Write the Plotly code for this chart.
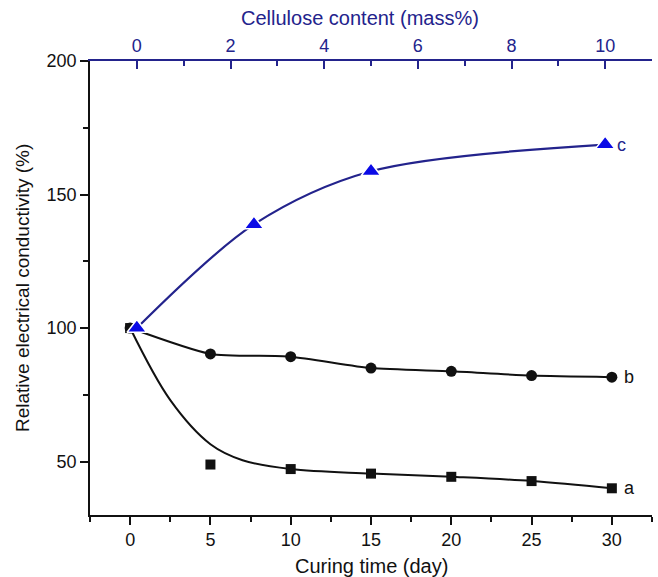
import plotly.graph_objects as go

# Curing time series (bottom axis, days)
days = [0, 5, 10, 15, 20, 25, 30]
cond_a = [100, 48.9, 47.2, 45.5, 44.3, 42.7, 40.0]
cond_b = [100, 90.3, 89.3, 85.0, 83.8, 82.2, 81.6]

# Fitted trend curve for series a
fit_a_days = [0, 2.5, 5, 7, 10, 15, 20, 25, 30]
fit_a_vals = [100, 73.0, 56.5, 50.5, 47.2, 45.5, 44.3, 42.7, 40.0]

# Cellulose content series (top axis, mass%)
cellulose = [0, 2.5, 5, 10]
cond_c = [100, 138.8, 158.7, 168.7]

BLACK = "#111111"
NAVY = "#23238c"
BLUE = "#0a0ae6"
FONT = "Liberation Sans, Arial, sans-serif"

fig = go.Figure()

fig.add_trace(go.Scatter(
    x=fit_a_days, y=fit_a_vals, mode="lines",
    line=dict(color=BLACK, width=2, shape="spline", smoothing=1.0),
    hoverinfo="skip", showlegend=False))
fig.add_trace(go.Scatter(
    x=days, y=cond_a, mode="markers", name="a",
    marker=dict(symbol="square", size=10, color=BLACK),
    showlegend=False))

fig.add_trace(go.Scatter(
    x=days, y=cond_b, mode="lines+markers", name="b",
    line=dict(color=BLACK, width=2, shape="spline", smoothing=0.6),
    marker=dict(symbol="circle", size=11, color=BLACK),
    showlegend=False))

fig.add_trace(go.Scatter(
    x=cellulose, y=cond_c, mode="lines+markers", name="c", xaxis="x2",
    line=dict(color=NAVY, width=2.2, shape="spline", smoothing=0.9),
    marker=dict(symbol="triangle-up", size=17, color=BLUE,
                line=dict(color="white", width=1.5)),
    showlegend=False))

tickfont = dict(family=FONT, size=18, color=BLACK)

fig.update_layout(
    width=658, height=577,
    margin=dict(l=90, r=6, t=61, b=62),
    paper_bgcolor="white", plot_bgcolor="white",
    font=dict(family=FONT, color=BLACK),
    xaxis=dict(
        range=[-2.5, 32.5], tick0=0, dtick=5,
        showline=True, linecolor=BLACK, linewidth=1.5,
        ticks="outside", ticklen=8, tickwidth=1.5, tickcolor=BLACK,
        minor=dict(dtick=2.5, ticks="outside", ticklen=5, tickwidth=1.5, tickcolor=BLACK),
        showgrid=False, zeroline=False, tickfont=tickfont, mirror=False),
    xaxis2=dict(
        overlaying="x", side="top", anchor="y",
        range=[-1, 11], tick0=0, dtick=2,
        showline=True, linecolor=NAVY, linewidth=1.5,
        ticks="inside", ticklen=8, tickwidth=1.5, tickcolor=NAVY,
        minor=dict(dtick=1, ticks="inside", ticklen=5, tickwidth=1.5, tickcolor=NAVY),
        showgrid=False, zeroline=False,
        tickfont=dict(family=FONT, size=18, color=NAVY)),
    yaxis=dict(
        range=[30, 200], tick0=0, dtick=50,
        showline=True, linecolor=BLACK, linewidth=1.5,
        ticks="outside", ticklen=8, tickwidth=1.5, tickcolor=BLACK,
        minor=dict(dtick=25, ticks="outside", ticklen=5, tickwidth=1.5, tickcolor=BLACK),
        showgrid=False, zeroline=False, tickfont=tickfont),
)

fig.add_annotation(text="Curing time (day)", xref="paper", yref="paper",
                   x=0.5, y=0, yshift=-51, showarrow=False,
                   font=dict(family=FONT, size=20, color=BLACK),
                   xanchor="center", yanchor="middle")
fig.add_annotation(text="Cellulose content (mass%)", xref="paper", yref="paper",
                   x=0.48, y=1, yshift=43, showarrow=False,
                   font=dict(family=FONT, size=20, color=NAVY),
                   xanchor="center", yanchor="middle")
fig.add_annotation(text="Relative electrical conductivity (%)", xref="paper", yref="paper",
                   x=0, y=0.5, xshift=-68, showarrow=False,
                   font=dict(family=FONT, size=19, color=BLACK),
                   textangle=-90, xanchor="center", yanchor="middle")

# Series labels at the right end of each curve
for lbl, xv, yv, ax, col in [("a", days[-1], cond_a[-1], "x", BLACK),
                              ("b", days[-1], cond_b[-1], "x", BLACK),
                              ("c", cellulose[-1], cond_c[-1], "x2", NAVY)]:
    fig.add_annotation(text=lbl, xref=ax, yref="y", x=xv, y=yv, xshift=10,
                       showarrow=False, xanchor="left", yanchor="middle",
                       font=dict(family=FONT, size=18, color=col))

fig.write_html("out.html")
